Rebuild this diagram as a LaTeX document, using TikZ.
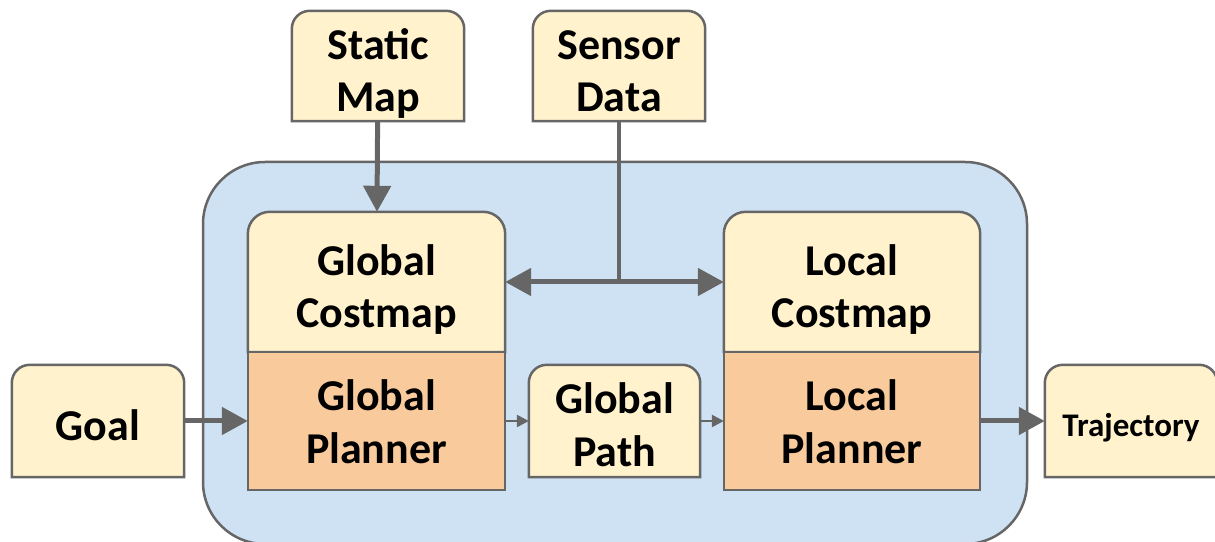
\documentclass[tikz,border=0pt]{standalone}
\usepackage{fontspec}
\setmainfont{Carlito}
\usetikzlibrary{arrows.meta}
\pgfdeclarelayer{back}
\pgfdeclarelayer{boxes}
\pgfsetlayers{back,boxes,main}
\definecolor{cream}{HTML}{FFF2CC}
\definecolor{peach}{HTML}{F9CB9C}
\definecolor{navblue}{HTML}{CFE2F3}
\definecolor{edge}{HTML}{666666}
\tikzset{
  block/.style={minimum width=172pt, minimum height=110pt, inner sep=0pt, align=center,
    font=\fontsize{44}{52}\selectfont\bfseries, text height=92pt, text depth=0pt},
  stack/.style={block, minimum width=257pt, minimum height=140pt},
  flow/.style={draw=edge, line width=5pt, -{Triangle[length=26pt,width=27pt]}},
  thinflow/.style={draw=edge, line width=2.5pt, -{Triangle[length=12pt,width=12pt]}}
}
\newcommand\topbox[3][18pt]{%
  \begin{pgfonlayer}{boxes}
    \filldraw[fill=#3, draw=edge, line width=2.5pt] (#2.south west) -- ([yshift=-#1]#2.north west)
      arc[start angle=180,end angle=90,radius=#1] -- ([xshift=-#1]#2.north east)
      arc[start angle=90,end angle=0,radius=#1] -- (#2.south east) -- cycle;
  \end{pgfonlayer}}
\newcommand\flatbox[2]{%
  \begin{pgfonlayer}{boxes}
    \filldraw[fill=#2, draw=edge, line width=2.5pt] (#1.south west) rectangle (#1.north east);
  \end{pgfonlayer}}
\begin{document}
\begin{tikzpicture}[x=1pt,y=1pt]
  \useasboundingbox (0,0) rectangle (1215,541);
  \begin{pgfonlayer}{back}
    \filldraw[fill=navblue, draw=edge, line width=2.5pt, rounded corners=62pt] (203,-3) rectangle (1027,379);
  \end{pgfonlayer}
  \node[block] (map) at (378,475) {Static\\Map};
  \node[block] (sensor) at (619,475) {Sensor\\Data};
  \node[stack] (gcost) at (376.5,259) {Global\\Costmap};
  \node[stack, minimum height=138pt, text height=84pt] (gplan) at (376.5,120) {Global\\Planner};
  \node[stack, minimum width=256pt] (lcost) at (852,259) {Local\\Costmap};
  \node[stack, minimum width=256pt, minimum height=138pt, text height=84pt] (lplan) at (852,120) {Local\\Planner};
  \node[block, minimum height=112pt, text height=38pt] (goal) at (98,120) {Goal};
  \node[block, minimum width=171pt, minimum height=112pt, text height=90pt] (gpath) at (614.5,120) {Global\\Path};
  \node[block, minimum height=112pt, font=\fontsize{33}{38}\selectfont\bfseries, text height=31pt] (traj) at (1131,120) {Trajectory};
  \topbox{map}{cream}
  \topbox{sensor}{cream}
  \topbox[22pt]{gcost}{cream}
  \flatbox{gplan}{peach}
  \topbox[22pt]{lcost}{cream}
  \flatbox{lplan}{peach}
  \topbox{goal}{cream}
  \topbox{gpath}{cream}
  \topbox{traj}{cream}
  \coordinate (split) at (sensor.south |- gcost.east);
  \draw[flow] (map) -- (gcost);
  \draw[draw=edge, line width=4.5pt] (sensor.south) -- (split);
  \draw[flow, {Triangle[length=26pt,width=27pt]}-{Triangle[length=26pt,width=27pt]}] (gcost.east) -- (lcost.west);
  \draw[flow] (goal) -- (gplan);
  \draw[thinflow] (gplan) -- (gpath);
  \draw[thinflow] (gpath) -- (lplan);
  \draw[flow] (lplan) -- (traj.west |- lplan.east);
\end{tikzpicture}
\end{document}
